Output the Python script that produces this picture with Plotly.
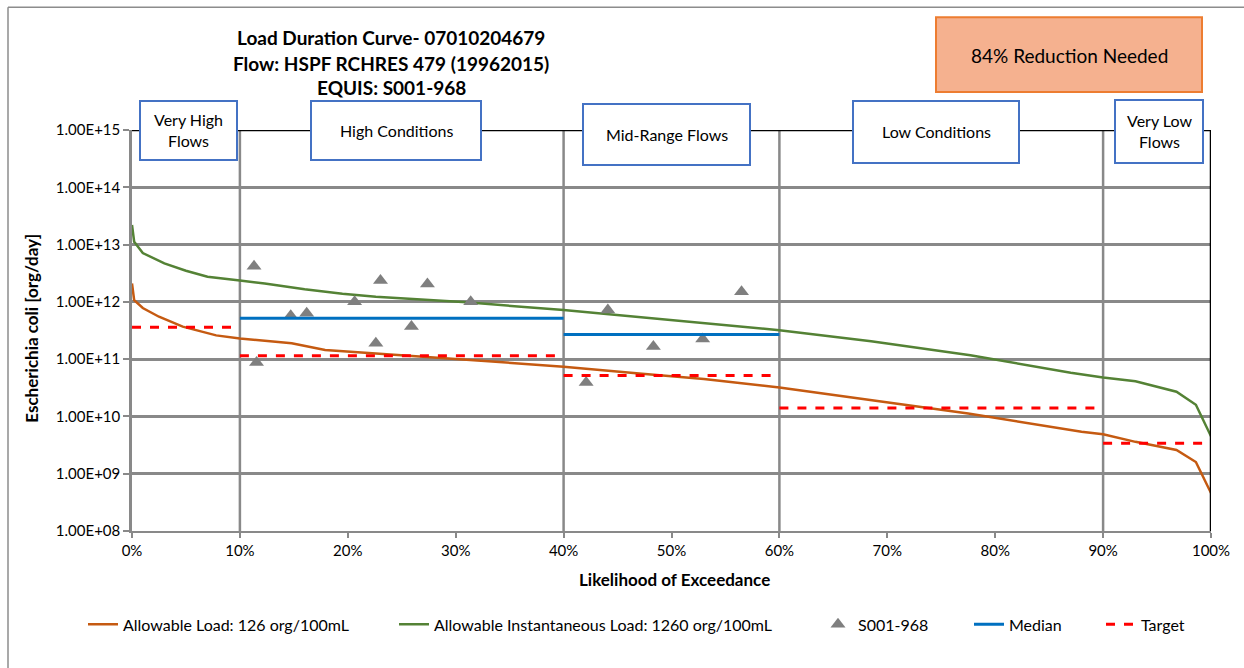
import plotly.graph_objects as go

# ---------------- data ----------------
load_pct = [0, 0.2, 1, 2.5, 4.7, 7.8, 10, 14.8, 17.9, 22.5, 31, 40, 47, 53, 60, 67, 77.5, 88, 90, 93, 96.8, 98.6, 100]
load_val = [2.09e12, 1.07e12, 7.8e11, 5.5e11, 3.7e11, 2.6e11, 2.3e11, 1.9e11, 1.45e11, 1.26e11, 9.8e10, 7.4e10,
            5.6e10, 4.5e10, 3.2e10, 2.1e10, 1.12e10, 5.4e9, 4.9e9, 3.6e9, 2.6e9, 1.6e9, 4.6e8]

inst_pct = [0, 0.2, 1, 3, 5, 7, 10, 12.3, 16, 19.5, 22.6, 31, 40, 47, 53, 60, 68.5, 77.7, 87, 90, 93, 96.8, 98.6, 100]
inst_val = [2.2e13, 1.12e13, 7.1e12, 4.7e12, 3.5e12, 2.75e12, 2.35e12, 2.1e12, 1.66e12, 1.38e12, 1.23e12, 9.8e11,
            7.2e11, 5.4e11, 4.3e11, 3.2e11, 2.05e11, 1.17e11, 5.8e10, 4.8e10, 4.1e10, 2.7e10, 1.6e10, 4.5e9]

sample_pct = [11.31, 11.54, 14.71, 16.19, 20.63, 22.60, 23.03, 25.90, 27.38, 31.39, 42.09, 44.10, 48.32, 52.89, 56.49]
sample_val = [4.2e12, 8.7e10, 5.7e11, 6.3e11, 1.0e12, 1.9e11, 2.35e12, 3.7e11, 2.05e12, 1.0e12, 3.9e10, 7.2e11,
              1.66e11, 2.25e11, 1.5e12]

median_pct = [10, 40, None, 40, 60]
median_val = [5.2e11, 5.2e11, None, 2.7e11, 2.7e11]

target_pct = [0, 10, None, 10, 40, None, 40, 60, None, 60, 90, None, 90, 100]
target_val = [3.6e11, 3.6e11, None, 1.15e11, 1.15e11, None, 5.2e10, 5.2e10, None, 1.4e10, 1.4e10, None, 3.4e9, 3.4e9]

zone_bounds = [10, 40, 60, 90]
zone_labels = ["Very High<br>Flows", "High Conditions", "Mid-Range Flows", "Low Conditions", "Very Low<br>Flows"]

x_ticks = [0, 10, 20, 30, 40, 50, 60, 70, 80, 90, 100]
x_ticktext = ["0%", "10%", "20%", "30%", "40%", "50%", "60%", "70%", "80%", "90%", "100%"]
y_ticks = [1e8, 1e9, 1e10, 1e11, 1e12, 1e13, 1e14, 1e15]
y_ticktext = ["1.00E+08", "1.00E+09", "1.00E+10", "1.00E+11", "1.00E+12", "1.00E+13", "1.00E+14", "1.00E+15"]

title_lines = ["Load Duration Curve- 07010204679", "Flow: HSPF RCHRES 479 (19962015)", "EQUIS: S001-968"]
reduction_text = "84% Reduction Needed"

# ---------------- layout geometry (pixels) ----------------
W, H = 1244, 668
L, R, T, B = 132, 1211, 130, 531.5
FONT = "Lato"


def px(xp):
    return (xp - L) / (R - L)


def py(yp):
    return (B - yp) / (B - T)


fig = go.Figure()

fig.add_trace(go.Scatter(x=load_pct, y=load_val, mode="lines", name="Allowable Load: 126 org/100mL",
                         line=dict(color="#C55A11", width=2.5), legend="legend"))
fig.add_trace(go.Scatter(x=inst_pct, y=inst_val, mode="lines", name="Allowable Instantaneous Load: 1260 org/100mL",
                         line=dict(color="#548235", width=2.5), legend="legend2"))
fig.add_trace(go.Scatter(x=sample_pct, y=sample_val, mode="markers", name="S001-968",
                         marker=dict(symbol="triangle-up", color="#7F7F7F", size=13), legend="legend3"))
fig.add_trace(go.Scatter(x=median_pct, y=median_val, mode="lines", name="Median",
                         line=dict(color="#0070C0", width=3), legend="legend4"))
fig.add_trace(go.Scatter(x=target_pct, y=target_val, mode="lines", name="Target",
                         line=dict(color="#FF0000", width=3, dash="dash"), legend="legend5"))

shapes = []
for b in zone_bounds:
    shapes.append(dict(type="line", xref="x", yref="y", x0=b, x1=b, y0=1e8, y1=1e15,
                       line=dict(color="#898989", width=2.5), layer="below"))
shapes.append(dict(type="line", xref="x", yref="y", x0=0, x1=100, y0=1e15, y1=1e15,
                   line=dict(color="black", width=2.5), layer="above"))
shapes.append(dict(type="line", xref="x", yref="y", x0=100, x1=100, y0=1e8, y1=1e15,
                   line=dict(color="black", width=2.5), layer="above"))
shapes.append(dict(type="line", xref="paper", yref="paper", x0=px(8), x1=px(8), y0=py(7), y1=py(700),
                   line=dict(color="#8C8C8C", width=1.5)))
shapes.append(dict(type="line", xref="paper", yref="paper", x0=px(8), x1=px(1260), y0=py(7), y1=py(7),
                   line=dict(color="#8C8C8C", width=1.5)))

boxes = [(140, 237, 101, 160), (311, 481, 101, 160), (583, 750, 104, 165), (853, 1019, 101, 163), (1115, 1203, 100, 163)]
annotations = []
for (x0, x1, y0, y1), lab in zip(boxes, zone_labels):
    shapes.append(dict(type="rect", xref="paper", yref="paper", x0=px(x0), x1=px(x1), y0=py(y1), y1=py(y0),
                       fillcolor="white", line=dict(color="#4472C4", width=2), layer="above"))
    annotations.append(dict(xref="paper", yref="paper", x=px((x0 + x1) / 2), y=py((y0 + y1) / 2),
                            text=lab, showarrow=False, font=dict(family=FONT, size=16, color="black"),
                            xanchor="center", yanchor="middle"))

shapes.append(dict(type="rect", xref="paper", yref="paper", x0=px(936), x1=px(1202), y0=py(92), y1=py(17),
                   fillcolor="#F5B18F", line=dict(color="#ED7D31", width=2), layer="above"))
annotations.append(dict(xref="paper", yref="paper", x=px(1069), y=py(55), text=reduction_text, showarrow=False,
                        font=dict(family=FONT, size=19, color="black"), xanchor="center", yanchor="middle"))

for t, yy in zip(title_lines, [37, 63, 87]):
    annotations.append(dict(xref="paper", yref="paper", x=px(391), y=py(yy), text="<b>" + t + "</b>",
                            showarrow=False, font=dict(family=FONT, size=19, color="black"),
                            xanchor="center", yanchor="middle"))

annotations.append(dict(xref="paper", yref="paper", x=px(32), y=py(329), text="<b>Escherichia coli [org/day]</b>",
                        textangle=-90, showarrow=False, font=dict(family=FONT, size=17, color="black"),
                        xanchor="center", yanchor="middle"))
annotations.append(dict(xref="paper", yref="paper", x=px(674), y=py(580), text="<b>Likelihood of Exceedance</b>",
                        showarrow=False, font=dict(family=FONT, size=17, color="black"),
                        xanchor="center", yanchor="middle"))

legend_text_starts = [127, 438, 862, 1013, 1145]
legend_common = dict(orientation="h", xanchor="left", yanchor="middle", y=py(625),
                     font=dict(family=FONT, size=16, color="black"), bgcolor="rgba(0,0,0,0)", itemwidth=30)
legends = {}
for i, xs in enumerate(legend_text_starts):
    key = "legend" if i == 0 else "legend%d" % (i + 1)
    legends[key] = dict(legend_common, x=px(xs - 44))

fig.update_layout(
    width=W, height=H,
    margin=dict(l=L, r=W - R, t=T, b=H - B),
    paper_bgcolor="white", plot_bgcolor="white",
    showlegend=True,
    xaxis=dict(range=[0, 100], tickvals=x_ticks, ticktext=x_ticktext, showgrid=False, zeroline=False,
               showline=True, linecolor="#898989", linewidth=2, ticks="outside", ticklen=5, tickcolor="#898989",
               tickwidth=2, tickfont=dict(family=FONT, size=15, color="black")),
    yaxis=dict(type="log", range=[8, 15], tickvals=y_ticks, ticktext=y_ticktext, showgrid=True,
               gridcolor="#898989", gridwidth=2.5, zeroline=False, showline=True, linecolor="#898989",
               linewidth=2.5, ticks="outside", ticklen=6, tickcolor="#898989", tickwidth=2,
               tickfont=dict(family=FONT, size=15, color="black")),
    shapes=shapes, annotations=annotations,
    font=dict(family=FONT, color="black"),
    **legends,
)

fig.write_html("out.html", config={"displayModeBar": False},
               post_script="document.body.style.margin='0';")
